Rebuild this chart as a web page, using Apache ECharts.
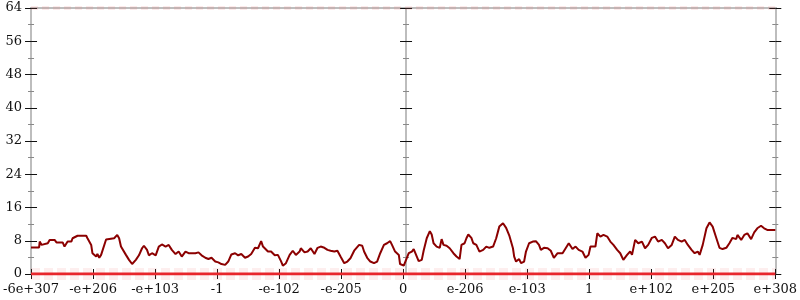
<!DOCTYPE html>
<html><head><meta charset="utf-8">
<script src="https://cdn.jsdelivr.net/npm/echarts@6/dist/echarts.min.js"></script>
<style>html,body{margin:0;padding:0;background:#fff}#c{width:800px;height:300px}</style>
</head><body><div id="c"></div>
<script>
// x tick labels (one per unit position 0..12)
var tickLabels = ['-6e+307','-e+206','-e+103','-1','-e-102','-e-205','0','e-206','e-103','1','e+102','e+205','e+308'];
// line positions (axis units, 0..12) and values
var xs = [0,0.13,0.14,0.17,0.19,0.27,0.30,0.38,0.41,0.51,0.54,0.59,0.65,0.67,0.75,0.89,0.91,0.97,0.99,1.02,1.05,1.07,1.10,1.13,1.15,1.21,1.34,1.39,1.42,1.45,1.47,1.53,1.58,1.63,1.69,1.74,1.79,1.82,1.87,1.90,1.95,2.01,2.06,2.11,2.17,2.22,2.27,2.33,2.38,2.43,2.49,2.54,2.65,2.67,2.70,2.75,2.81,2.86,2.91,2.97,3.02,3.07,3.13,3.18,3.23,3.29,3.34,3.39,3.45,3.50,3.55,3.61,3.66,3.71,3.74,3.77,3.82,3.87,3.93,3.98,4.03,4.06,4.11,4.17,4.22,4.27,4.33,4.35,4.41,4.46,4.51,4.57,4.62,4.67,4.73,4.78,4.83,4.89,4.94,4.99,5.05,5.10,5.15,5.21,5.29,5.34,5.37,5.42,5.47,5.53,5.58,5.63,5.69,5.74,5.79,5.82,5.87,5.93,5.95,6.01,6.03,6.09,6.14,6.17,6.19,6.25,6.30,6.33,6.38,6.43,6.46,6.49,6.54,6.59,6.62,6.65,6.70,6.75,6.81,6.86,6.91,6.94,6.99,7.02,7.05,7.10,7.13,7.18,7.23,7.29,7.34,7.39,7.45,7.50,7.55,7.61,7.66,7.71,7.77,7.79,7.82,7.87,7.90,7.95,7.98,8.03,8.09,8.14,8.19,8.22,8.27,8.33,8.38,8.43,8.49,8.57,8.62,8.67,8.73,8.78,8.83,8.89,8.94,8.99,9.02,9.10,9.13,9.15,9.18,9.23,9.29,9.34,9.39,9.45,9.50,9.55,9.58,9.61,9.66,9.69,9.74,9.79,9.85,9.90,9.95,10.01,10.06,10.11,10.17,10.22,10.27,10.33,10.38,10.43,10.49,10.54,10.59,10.65,10.70,10.75,10.78,10.83,10.89,10.94,10.99,11.05,11.10,11.15,11.21,11.26,11.31,11.37,11.39,11.45,11.50,11.55,11.61,11.66,11.71,11.77,11.82,11.87,11.98,12];
var ys = [6.4,6.4,7.8,7.0,7.4,7.4,8.2,8.2,7.6,7.6,6.6,7.8,7.8,8.6,9.2,9.2,8.6,7.0,5.0,5.0,4.2,4.8,3.9,4.6,4.6,8.3,8.6,9.4,8.6,6.6,6.2,4.6,3.4,2.4,3.4,4.5,6.2,6.8,5.8,4.5,5.0,4.5,6.6,7.1,6.6,7.0,5.8,4.8,5.4,4.2,5.4,5.0,5.0,4.6,5.2,4.5,3.9,3.6,3.9,3.0,2.8,2.4,2.2,3.0,4.7,5.0,4.5,4.8,3.9,4.2,4.8,6.3,6.2,7.9,6.6,6.3,5.4,5.4,4.5,4.6,3.1,2.0,2.6,4.6,5.6,4.6,5.4,6.2,5.2,5.4,6.2,4.8,6.3,6.6,6.3,5.8,5.6,5.4,5.6,4.2,2.6,3.0,3.8,5.6,7.0,6.8,5.4,3.9,3.0,2.6,3.0,5.0,7.0,7.4,7.9,7.0,5.4,4.6,2.4,2.0,2.2,5.0,5.4,6.0,5.8,3.1,3.4,5.6,8.6,10.3,9.5,7.4,6.6,6.3,8.4,7.0,6.8,6.2,5.0,4.2,3.6,7.0,7.4,8.6,9.5,8.7,7.4,7.0,5.4,5.8,6.6,6.3,6.6,8.6,11.4,12.2,11.1,9.3,6.2,4.2,3.0,3.6,2.6,3.0,5.4,7.4,7.8,7.9,7.0,5.8,6.3,6.2,5.6,3.9,5.0,5.0,6.2,7.4,6.0,6.6,5.8,5.4,3.9,4.6,6.6,6.6,9.8,10.0,9.0,9.4,9.0,7.8,7.0,5.8,5.0,3.4,3.0,4.6,5.4,4.6,8.2,7.4,7.8,6.2,7.0,8.7,9.0,7.8,8.2,7.4,6.2,7.0,9.0,8.2,7.8,8.2,7.0,5.8,5.0,5.4,4.6,7.0,11.0,12.4,11.4,8.6,6.3,6.0,6.3,7.4,8.7,8.4,9.4,8.2,9.4,9.8,8.4,10.0,11.0,11.6,11.0,10.6,10.6,10.6];
var yTicks = [0,8,16,24,32,40,48,56,64];
var bandLow = 0, bandHigh = 64;

var chart = echarts.init(document.getElementById('c'), null, {renderer:'canvas'});
var font = 'DejaVu Serif';
var axisGray = '#bdbdbd';
function yAx(pos, offset, inside, labels, len, mlen) {
  return {
    type:'value', min:yTicks[0], max:yTicks[yTicks.length-1], interval:8, position:pos, offset:offset,
    axisLine:{show:true, onZero:false, lineStyle:{color:axisGray, width:2}},
    axisTick:{show:true, inside:inside, length:len, lineStyle:{color:'#111', width:1}},
    minorTick:{show:true, splitNumber:2, length:mlen, lineStyle:{color:'#888', width:1}},
    axisLabel:{show:labels, margin:9, color:'#111', fontFamily:font, fontSize:13},
    splitLine:{show:false}
  };
}
var line = xs.map(function(x,i){return [x, ys[i]];});
chart.setOption({
  animation:false,
  grid:{left:28, right:22, top:8, bottom:26, containLabel:false},
  xAxis:[
    {type:'value', min:0, max:12, interval:1, position:'bottom',
     axisLine:{show:true, onZero:false, lineStyle:{color:axisGray, width:2}},
     axisTick:{show:true, length:5, lineStyle:{color:'#111'}},
     axisLabel:{margin:9, color:'#111', fontFamily:font, fontSize:13,
       formatter:function(v){return tickLabels[Math.round(v)];}},
     splitLine:{show:false}},
    {type:'value', min:0, max:12, interval:1, position:'bottom',
     axisLine:{show:false}, axisTick:{show:true, inside:true, length:5, lineStyle:{color:'#111'}},
     axisLabel:{show:false}, splitLine:{show:false}},
    {type:'value', min:0, max:12, position:'top',
     axisLine:{show:true, onZero:false, lineStyle:{color:axisGray, width:2}},
     axisTick:{show:false}, axisLabel:{show:false}, splitLine:{show:false}}
  ],
  yAxis:[
    yAx('left', 0, false, true, 6, 3),
    yAx('left', 0, true, false, 6, 3),
    yAx('left', -375, false, false, 6, 3),
    yAx('left', -375, true, false, 6, 3),
    yAx('right', 0, false, false, 6, 3),
    yAx('right', 0, true, false, 6, 3)
  ],
  series:[
    {type:'line', data:[[0,bandHigh],[12,bandHigh]], showSymbol:false, silent:true,
     lineStyle:{color:'rgba(240,110,110,0.14)', width:4, type:[7,4]}, z:1},
    {type:'line', data:[[0,bandLow],[12,bandLow]], showSymbol:false, silent:true,
     lineStyle:{color:'rgba(240,90,90,0.1)', width:12, type:[9,4]}, z:1},
    {type:'line', data:line, showSymbol:false, silent:true,
     lineStyle:{color:'#8b0000', width:2}, z:3},
    {type:'line', data:[[0,bandLow],[12,bandLow]], showSymbol:false, silent:true,
     lineStyle:{color:'#e8262c', width:3}, z:4}
  ]
});
</script>
</body></html>
